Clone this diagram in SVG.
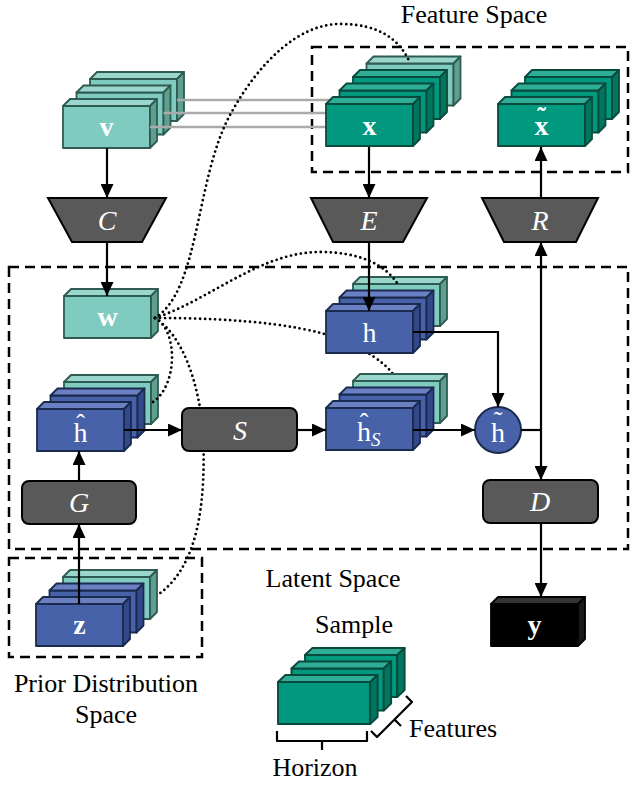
<svg xmlns="http://www.w3.org/2000/svg" width="638" height="789" viewBox="0 0 638 789">
<style>
.lbl{font-family:"Liberation Serif","DejaVu Serif",serif;font-size:28px;fill:#fff;text-anchor:middle}
.bold{font-weight:bold}
.op{font-family:"Liberation Serif","DejaVu Serif",serif;font-size:28px;font-style:italic;fill:#fff;text-anchor:middle}
.cap{font-family:"Liberation Serif","DejaVu Serif",serif;font-size:26px;fill:#000;text-anchor:middle}
.start{text-anchor:start}
.region{fill:none;stroke:#000;stroke-width:2.5;stroke-dasharray:10 6}
.arrow{fill:none;stroke:#000;stroke-width:2.2;marker-end:url(#ah)}
.line{fill:none;stroke:#000;stroke-width:2.2}
.dot{fill:none;stroke:#000;stroke-width:2.8;stroke-dasharray:0 5;stroke-linecap:round}
.gray{fill:none;stroke:#aaaaaa;stroke-width:2.5}
.opbox{fill:#595959;stroke:#000;stroke-width:2}
.brace{fill:none;stroke:#000;stroke-width:2.2;stroke-linejoin:round}
</style>
<defs>
<marker id="ah" viewBox="0 0 14 13" refX="14" refY="6.5" markerWidth="14" markerHeight="13" markerUnits="userSpaceOnUse" orient="auto">
<path d="M0,0 L14,6.5 L0,13 z" fill="#000"/>
</marker>
<g id="cLT" stroke="#2e5b52" stroke-width="1.8" stroke-linejoin="round">
<rect x="0" y="0" width="87" height="42" fill="#80cbc0"/>
<polygon points="0,0 7,-7 94,-7 87,0" fill="#9ad6cc"/>
<polygon points="87,0 94,-7 94,35 87,42" fill="#5e9f90"/>
</g>
<g id="cDT" stroke="#0a4a3c" stroke-width="1.8" stroke-linejoin="round">
<rect x="0" y="0" width="87" height="42" fill="#009980"/>
<polygon points="0,0 7,-7 94,-7 87,0" fill="#2eae97"/>
<polygon points="87,0 94,-7 94,35 87,42" fill="#00765f"/>
</g>
<g id="cBL" stroke="#1b2a4f" stroke-width="1.8" stroke-linejoin="round">
<rect x="0" y="0" width="87" height="42" fill="#4762a8"/>
<polygon points="0,0 7,-7 94,-7 87,0" fill="#6b80c2"/>
<polygon points="87,0 94,-7 94,35 87,42" fill="#33488a"/>
</g>
<g id="cK" stroke="#000" stroke-width="1.8" stroke-linejoin="round">
<rect x="0" y="0" width="87" height="42" fill="#000"/>
<polygon points="0,0 7,-7 94,-7 87,0" fill="#333"/>
<polygon points="87,0 94,-7 94,35 87,42" fill="#1a1a1a"/>
</g>
</defs>
<rect width="638" height="789" fill="#fff"/>

<g id="regions">
<rect class="region" x="312" y="47" width="316" height="125"/>
<rect class="region" x="9" y="267" width="619" height="282"/>
<rect class="region" x="9" y="558" width="193" height="99"/>
<text class="cap" x="474" y="23">Feature Space</text>
<text class="cap" x="333" y="587">Latent Space</text>
<text class="cap" x="106" y="692">Prior Distribution</text>
<text class="cap" x="106" y="723">Space</text>
</g>

<g id="node-v">
<use href="#cLT" x="90" y="79"/>
<use href="#cLT" x="76.5" y="92.5"/>
<use href="#cLT" x="63" y="106"/>
<text class="lbl bold" x="106.5" y="136">v</text>
</g>

<g id="links-behind">
<path class="gray" d="M177,100 L340,100"/>
<path class="gray" d="M163.5,113 L335,113"/>
<path class="gray" d="M150,127 L330,127"/>
<path class="dot" d="M155,318 C240,318 320,325 360,348 C380,360 390,368 397,380"/>
<path class="dot" d="M155,318 C182,335 198,380 203,430 C206,500 200,570 153,598"/>
</g>

<g id="node-x">
<use href="#cLT" x="366.5" y="63.5"/>
<use href="#cDT" x="353" y="77"/>
<use href="#cDT" x="339.5" y="90.5"/>
<use href="#cDT" x="326" y="104"/>
<text class="lbl bold" x="369.5" y="135">x</text>
</g>

<g id="node-xt">
<use href="#cDT" x="525" y="77"/>
<use href="#cDT" x="511.5" y="90.5"/>
<use href="#cDT" x="498" y="104"/>
<text class="lbl bold start" x="534.5" y="135">x<tspan font-size="26" dx="-11.3" dy="-10">˜</tspan></text>
</g>

<g id="node-C">
<polygon class="opbox" points="48,198 166,198 142,242 72,242"/>
<text class="op" x="107" y="230">C</text>
</g>
<g id="node-E">
<polygon class="opbox" points="311,198 427,198 403,242 333,242"/>
<text class="op" x="369" y="230">E</text>
</g>
<g id="node-R">
<polygon class="opbox" points="482,198 598,198 576,242 504,242"/>
<text class="op" x="540" y="230">R</text>
</g>

<g id="node-w">
<use href="#cLT" x="64" y="296"/>
<text class="lbl bold" x="107.5" y="326">w</text>
</g>

<g id="node-h">
<use href="#cLT" x="353" y="284"/>
<use href="#cBL" x="339.5" y="297.5"/>
<use href="#cBL" x="326" y="311"/>
<text class="lbl" x="369.5" y="342">h</text>
</g>

<g id="node-hhat">
<use href="#cLT" x="64" y="382"/>
<use href="#cBL" x="50.5" y="395.5"/>
<use href="#cBL" x="37" y="409"/>
<text class="lbl start" x="73.5" y="442">h<tspan font-size="26" dx="-11.3" dy="-10">ˆ</tspan></text>
</g>

<g id="node-hs">
<use href="#cLT" x="353" y="381"/>
<use href="#cBL" x="339.5" y="394.5"/>
<use href="#cBL" x="326" y="408"/>
<text class="lbl start" x="357" y="441">h<tspan font-size="26" dx="-11.3" dy="-10">ˆ</tspan><tspan font-style="italic" font-size="19" dx="2.6" dy="15">S</tspan></text>
</g>

<g id="node-S">
<rect class="opbox" x="182" y="408" width="115" height="43" rx="7"/>
<text class="op" x="240" y="440">S</text>
</g>

<g id="node-htilde">
<circle cx="498" cy="430" r="23" fill="#4762a8" stroke="#1b2a4f" stroke-width="2"/>
<text class="lbl start" x="491" y="442">h<tspan font-size="26" dx="-11.3" dy="-13">˜</tspan></text>
</g>

<g id="node-G">
<rect class="opbox" x="22" y="481" width="114" height="43" rx="7"/>
<text class="op" x="79" y="512">G</text>
</g>

<g id="node-D">
<rect class="opbox" x="483" y="480" width="115" height="43" rx="7"/>
<text class="op" x="540" y="511">D</text>
</g>

<g id="node-z">
<use href="#cLT" x="63" y="577"/>
<use href="#cBL" x="49.5" y="590.5"/>
<use href="#cBL" x="36" y="604"/>
<text class="lbl bold" x="79.5" y="634">z</text>
</g>

<g id="node-y">
<use href="#cK" x="491" y="604"/>
<text class="lbl bold" x="534.5" y="634">y</text>
</g>

<g id="legend">
<g transform="translate(305,655) scale(1.06,1)"><use href="#cDT"/></g>
<g transform="translate(291.5,668.5) scale(1.06,1)"><use href="#cDT"/></g>
<g transform="translate(278,682) scale(1.06,1)"><use href="#cDT"/></g>
<text class="cap" x="354" y="633">Sample</text>
<path class="brace" d="M277,731 L277,741 L367,741 L367,731 M322,741 L322,750"/>
<path class="brace" d="M371,731 L377,737 L412,702 L406,696 M394.5,719.5 L401,726"/>
<text class="cap" x="315" y="776">Horizon</text>
<text class="cap start" x="409" y="737">Features</text>
</g>

<g id="connectors">
<path class="arrow" d="M107,148 L107,198"/>
<path class="arrow" d="M107,242 L107,296"/>
<path class="arrow" d="M369,147 L369,198"/>
<path class="arrow" d="M369,242 L369,311"/>
<path class="arrow" d="M541,198 L541,147"/>
<path class="line" d="M521,430 L541,430"/>
<path class="arrow" d="M541,430 L541,242"/>
<path class="arrow" d="M541,430 L541,480"/>
<path class="arrow" d="M541,523 L541,597"/>
<path class="arrow" d="M413,332 L498,332 L498,407"/>
<path class="arrow" d="M413,430 L475,430"/>
<path class="arrow" d="M124,430 L182,430"/>
<path class="arrow" d="M297,430 L326,430"/>
<path class="arrow" d="M79,604 L79,524"/>
<path class="arrow" d="M79,481 L79,451"/>
<path class="dot" d="M155,318 C200,290 195,180 230,115 C260,60 300,24 340,24 C380,24 400,40 410,63"/>
<path class="dot" d="M155,318 C210,300 260,252 320,252 C360,252 385,265 397,283"/>
<path class="dot" d="M155,318 C178,330 178,385 153,402"/>
</g>
</svg>
